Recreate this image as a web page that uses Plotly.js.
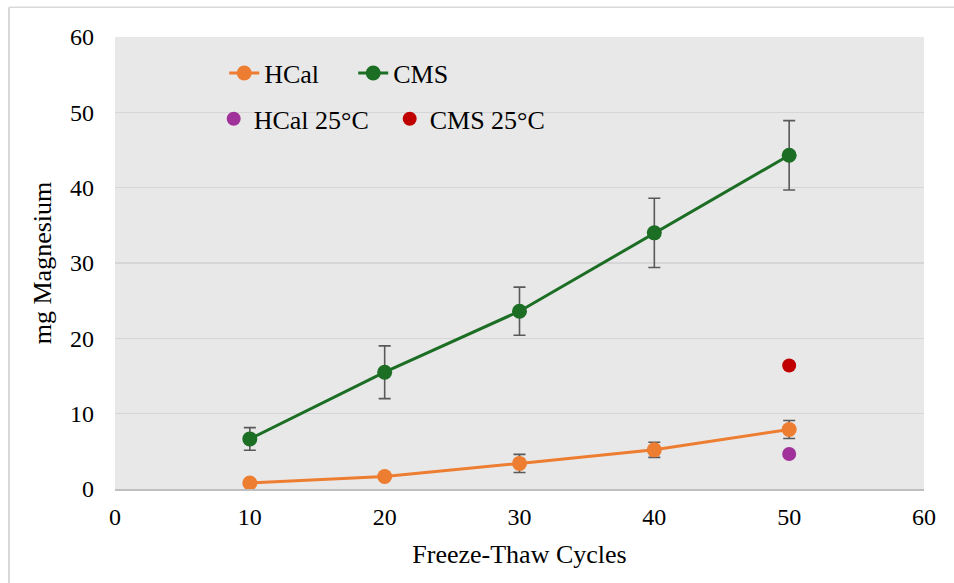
<!DOCTYPE html>
<html><head><meta charset="utf-8">
<script src="https://cdn.plot.ly/plotly-3.0.1.min.js"></script>
<style>body{margin:0;background:#fff}#chart{width:954px;height:583px}</style>
</head><body><div id="chart"></div>
<script>
const cycles = [10, 20, 30, 40, 50];
const hcal = [0.8, 1.65, 3.4, 5.2, 7.9];
const hcalErr = [0.3, 0.3, 1.2, 1.0, 1.2];
const cms = [6.65, 15.5, 23.6, 34.0, 44.3];
const cmsErr = [1.5, 3.5, 3.2, 4.6, 4.6];
const cycles25 = [50];
const hcal25 = [4.65];
const cms25 = [16.4];

const font = {family: 'Liberation Serif, Times New Roman, serif', color: '#000'};
const errStyle = {type: 'data', visible: true, color: '#595959', thickness: 1.6, width: 6};

const data = [
  {x: cycles, y: hcal, name: 'HCal', mode: 'lines+markers', type: 'scatter',
   line: {color: '#ED7D31', width: 3}, marker: {color: '#ED7D31', size: 15},
   error_y: Object.assign({array: hcalErr}, errStyle), legend: 'legend'},
  {x: cycles, y: cms, name: 'CMS', mode: 'lines+markers', type: 'scatter',
   line: {color: '#1C6E24', width: 3}, marker: {color: '#1C6E24', size: 15},
   error_y: Object.assign({array: cmsErr}, errStyle), legend: 'legend'},
  {x: cycles25, y: hcal25, name: 'HCal 25°C', mode: 'markers', type: 'scatter',
   marker: {color: '#A0309A', size: 14}, legend: 'legend2'},
  {x: cycles25, y: cms25, name: 'CMS 25°C', mode: 'markers', type: 'scatter',
   marker: {color: '#C00000', size: 14}, legend: 'legend2'}
];

const layout = {
  width: 954, height: 583,
  margin: {l: 115, r: 30, t: 37, b: 94},
  paper_bgcolor: '#fff', plot_bgcolor: '#E8E8E8',
  font: Object.assign({size: 18}, font),
  showlegend: true,
  xaxis: {range: [0, 60], dtick: 10, tick0: 0, showgrid: false, zeroline: false,
    showline: true, linecolor: '#BFBFBF', linewidth: 2, ticks: '', ticklen: 0,
    ticklabelstandoff: 5,
    tickfont: Object.assign({size: 24}, font),
    title: {text: 'Freeze-Thaw Cycles', font: Object.assign({size: 26}, font), standoff: 16}},
  yaxis: {range: [0, 60], dtick: 10, tick0: 0, showgrid: true, gridcolor: '#D6D6D6', gridwidth: 1.5,
    zeroline: false, showline: false, ticks: '', ticklen: 0,
    ticklabelstandoff: 20,
    tickfont: Object.assign({size: 24}, font),
    title: {text: 'mg Magnesium', font: Object.assign({size: 26}, font), standoff: 10}},
  legend: {orientation: 'h', x: 0.135, y: 0.92, xanchor: 'left', yanchor: 'middle',
    bgcolor: 'rgba(0,0,0,0)', font: Object.assign({size: 26}, font), entrywidth: 84, entrywidthmode: 'pixels'},
  legend2: {orientation: 'h', x: 0.122, y: 0.819, xanchor: 'left', yanchor: 'middle',
    bgcolor: 'rgba(0,0,0,0)', font: Object.assign({size: 26}, font), entrywidth: 131, entrywidthmode: 'pixels'},
  shapes: [
    {type: 'line', xref: 'paper', yref: 'paper', x0: -0.131, x1: -0.131, y0: -0.25, y1: 1.066,
     line: {color: '#D9D9D9', width: 2}},
    {type: 'line', xref: 'paper', yref: 'paper', x0: -0.131, x1: 1.04, y0: 1.066, y1: 1.066,
     line: {color: '#D9D9D9', width: 1.5}}
  ]
};

Plotly.newPlot('chart', data, layout, {displayModeBar: false, staticPlot: true});
</script></body></html>
